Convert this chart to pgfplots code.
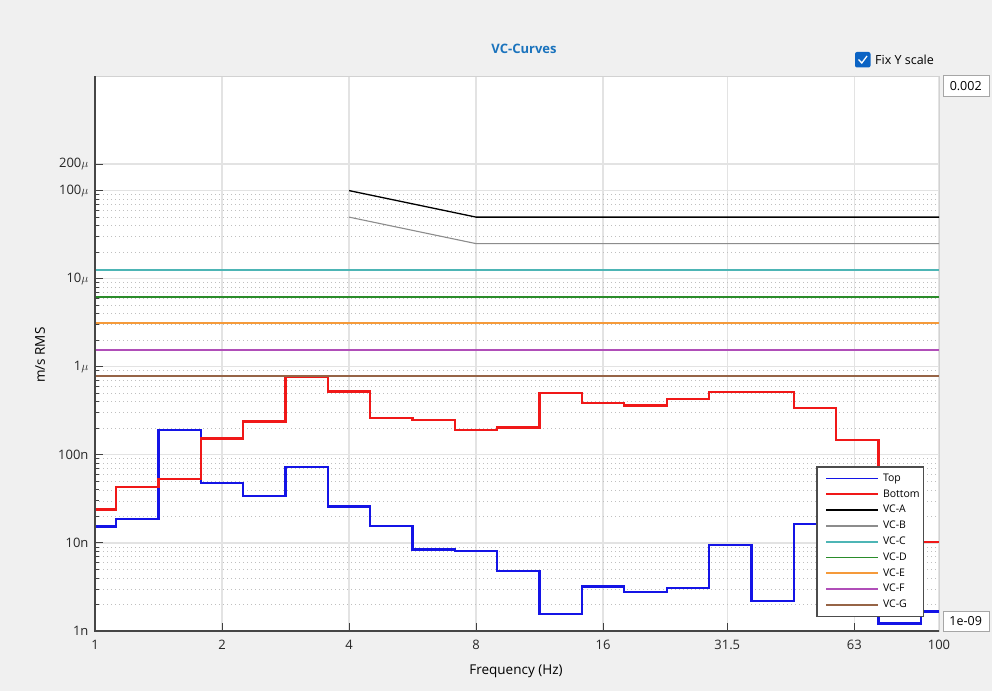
\documentclass[border=0pt]{standalone}
\usepackage{fontspec}
\setmainfont{Open Sans}
\usepackage{pgfplots}
\pgfplotsset{compat=1.18}
\definecolor{bg}{HTML}{F0F0F0}
\definecolor{titleblue}{HTML}{1A73BD}
\definecolor{cbblue}{HTML}{0B63C4}
\definecolor{topblue}{HTML}{1414E6}
\definecolor{botred}{HTML}{F01818}
\definecolor{vcb}{HTML}{8C8C8C}
\definecolor{vcc}{HTML}{4DB5B5}
\definecolor{vcd}{HTML}{2A8C2A}
\definecolor{vce}{HTML}{F59A3A}
\definecolor{vcf}{HTML}{B04EB8}
\definecolor{vcg}{HTML}{966446}
\begin{document}
\begin{tikzpicture}[x=1pt,y=1pt]
\fill[bg] (0,0) rectangle (992,691);
\path[use as bounding box] (0,0) rectangle (992,691);
\node[font=\bfseries\fontsize{13}{15}\selectfont, text=titleblue] at (524,642) {VC-Curves};
\fill[cbblue, rounded corners=2pt] (855,623.5) rectangle (870.5,639);
\draw[white, line width=1.3pt] (858.5,631.5) -- (861.8,628) -- (867,635);
\node[anchor=west, font=\fontsize{12.5}{14}\selectfont, inner sep=0pt] at (875,631.5) {Fix Y scale};
\node[draw=gray!70, fill=white, minimum width=46pt, minimum height=20.6pt, inner sep=0pt, font=\fontsize{12.5}{14}\selectfont] at (965.7,605) {0.002};
\node[draw=gray!70, fill=white, minimum width=46pt, minimum height=19.3pt, inner sep=0pt, font=\fontsize{12.5}{14}\selectfont] at (965.7,69.7) {1e-09};
\begin{axis}[
 at={(95pt,60pt)}, anchor=south west,
 scale only axis, width=844pt, height=555pt,
 xmode=log, ymode=log,
 xmin=1, xmax=100, ymin=1e-9, ymax=2e-3,
 axis background/.style={fill=white},
 axis line style={draw=gray!35, line width=0.8pt},
 xtick={1,2,4,8,16,31.5,63,100},
 xticklabels={1,2,4,8,16,31.5,63,100},
 ytick={1e-9,1e-8,1e-7,1e-6,1e-5,1e-4,2e-4},
 yticklabels={1n,10n,100n,1$\mu$,10$\mu$,100$\mu$,200$\mu$},
 minor ytick={2e-9,3e-9,4e-9,5e-9,6e-9,7e-9,8e-9,9e-9,
   2e-8,3e-8,4e-8,5e-8,6e-8,7e-8,8e-8,9e-8,
   2e-7,3e-7,4e-7,5e-7,6e-7,7e-7,8e-7,9e-7,
   2e-6,3e-6,4e-6,5e-6,6e-6,7e-6,8e-6,9e-6,
   2e-5,3e-5,4e-5,5e-5,6e-5,7e-5,8e-5,9e-5},
 xtick pos=bottom, ytick pos=left,
 tick align=inside,
 major tick length=8pt, minor tick length=4pt,
 tick style={gray!50!black, line width=0.9pt},
 xmajorgrids, ymajorgrids, yminorgrids,
 major grid style={gray!22, line width=1.3pt},
 minor grid style={gray!50, line width=0.8pt, dash pattern=on 0.8pt off 3.2pt},
 ticklabel style={font=\fontsize{13}{15}\selectfont, text=black!85},
 xticklabel style={yshift=-6pt},
 yticklabel style={xshift=-3pt},
 xlabel={Frequency (Hz)},
 ylabel={m/s RMS},
 label style={font=\fontsize{13.5}{16}\selectfont},
 xlabel style={at={(axis description cs:0.4988,-0.072)}, anchor=center},
 ylabel style={at={(axis description cs:-0.0652,0.497)}, anchor=center},
 legend image code/.code={\path (0pt,0pt); \draw[#1, line width=1.8pt] (5pt,0pt) -- (57pt,0pt);},
 legend style={at={(0.8545,0.2973)}, anchor=north west, draw=gray!60!black, line width=1.5pt, fill=white,
   font=\fontsize{10.5}{12}\selectfont, inner xsep=3pt, inner ysep=6.5pt, row sep=5.3pt,
   nodes={inner sep=1pt, text height=7pt, text depth=1.5pt}, cells={anchor=west},
   /tikz/every odd column/.append style={column sep=3pt}},
 after end axis/.code={\draw[gray!55!black, line width=1.6pt] (rel axis cs:0,1) -- (rel axis cs:0,0) -- (rel axis cs:1,0);},
]
\addplot[const plot, topblue, line width=2.3pt] coordinates {
(1,1.54e-8) (1.122,1.86e-8) (1.414,1.92e-7) (1.782,4.83e-8) (2.245,3.41e-8)
(2.828,7.34e-8) (3.564,2.59e-8) (4.490,1.55e-8) (5.657,8.41e-9) (7.127,8.13e-9)
(8.980,4.81e-9) (11.31,1.56e-9) (14.25,3.19e-9) (17.96,2.78e-9) (22.63,3.06e-9)
(28.51,9.44e-9) (35.92,2.19e-9) (45.25,1.65e-8) (57.02,6e-9) (71.84,1.22e-9)
(90.51,1.66e-9) (100,1.66e-9)};
\addlegendentry{Top}
\addplot[const plot, botred, line width=2.3pt] coordinates {
(1,2.40e-8) (1.122,4.31e-8) (1.414,5.36e-8) (1.782,1.53e-7) (2.245,2.40e-7)
(2.828,7.62e-7) (3.564,5.24e-7) (4.490,2.60e-7) (5.657,2.47e-7) (7.127,1.92e-7)
(8.980,2.05e-7) (11.31,5.01e-7) (14.25,3.89e-7) (17.96,3.63e-7) (22.63,4.28e-7)
(28.51,5.19e-7) (35.92,5.14e-7) (45.25,3.38e-7) (57.02,1.48e-7) (71.84,1.8e-8)
(90.51,1.03e-8) (100,1.03e-8)};
\addlegendentry{Bottom}
\addplot[black, line width=1.3pt] coordinates {(4,1e-4) (8,5e-5) (100,5e-5)};
\addlegendentry{VC-A}
\addplot[vcb, line width=1.1pt] coordinates {(4,5e-5) (8,2.5e-5) (100,2.5e-5)};
\addlegendentry{VC-B}
\addplot[vcc, line width=2pt] coordinates {(1,1.25e-5) (100,1.25e-5)};
\addlegendentry{VC-C}
\addplot[vcd, line width=1.8pt] coordinates {(1,6.25e-6) (100,6.25e-6)};
\addlegendentry{VC-D}
\addplot[vce, line width=1.5pt] coordinates {(1,3.125e-6) (100,3.125e-6)};
\addlegendentry{VC-E}
\addplot[vcf, line width=1.8pt] coordinates {(1,1.5625e-6) (100,1.5625e-6)};
\addlegendentry{VC-F}
\addplot[vcg, line width=1.6pt] coordinates {(1,7.8125e-7) (100,7.8125e-7)};
\addlegendentry{VC-G}
\end{axis}
\end{tikzpicture}
\end{document}
